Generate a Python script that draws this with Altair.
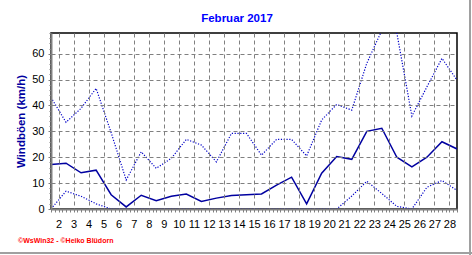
import altair as alt
import pandas as pd

# --- data ---
days = list(range(1, 29))
gust_max = [43.1, 33.5, 38.9, 46.6, 29.5, 11.2, 22.1, 15.7, 19.6, 26.9,
            24.7, 18.2, 29.2, 29.2, 20.8, 26.9, 26.9, 20.5, 34.4, 40.4,
            38.2, 56.3, 69.0, 68.0, 35.9, 47.2, 58.2, 49.8]
gust_mean = [17.2, 17.7, 14.0, 15.0, 5.5, 0.8, 5.3, 3.2, 4.9, 5.8,
             2.9, 4.2, 5.2, 5.5, 5.8, 9.2, 12.3, 2.0, 13.8, 20.3,
             19.2, 30.0, 31.2, 20.0, 16.3, 20.0, 26.0, 23.2]
gust_min = [0.0, 6.9, 4.9, 2.0, 0.0, 0.0, 0.0, 0.0, 0.0, 0.0,
            0.0, 0.0, 0.0, 0.0, 0.0, 0.0, 0.0, 0.0, 0.0, 0.0,
            5.0, 10.7, 6.0, 1.0, 0.0, 8.4, 11.0, 7.2]
day_labels = list(range(2, 29))
y_ticks = [0, 10, 20, 30, 40, 50, 60]
title_text = "Februar 2017"
y_title = "Windböen  (km/h)"
footer_text = "©WsWin32 - ©Heiko Blüdorn"

df = pd.DataFrame({"day": days, "max": gust_max, "mean": gust_mean, "min": gust_min})

x_grid = [d - 0.5 for d in day_labels]
x_minor = [1 + i * 0.25 for i in range(109)]
y_minor = list(range(0, 69, 2))

xscale = alt.Scale(domain=[1, 28], nice=False, zero=False)
yscale = alt.Scale(domain=[0, 68], nice=False, zero=True)

FONT = "Liberation Sans"
GRAY = "#808080"

x_axis_main = alt.Axis(
    values=x_grid, labelExpr="round(datum.value + 0.5)", grid=True,
    gridColor=GRAY, gridDash=[4, 3], gridWidth=1, tickSize=0, labelPadding=9,
    domainColor=GRAY, domainWidth=2, labelFont=FONT, labelFontSize=11,
    labelColor="black", title=None, orient="bottom", labelFlush=False,
    labelOverlap=False, zindex=1, gridOpacity=1)
y_axis_main = alt.Axis(
    values=y_ticks, grid=True, gridColor=GRAY, gridDash=[4, 3], gridWidth=1,
    tickSize=3, tickColor=GRAY, labelPadding=4, domainColor=GRAY, domainWidth=2,
    labelFont=FONT, labelFontSize=11, labelColor="black", title=y_title,
    titleFont=FONT, titleFontSize=11.5, titleFontWeight="bold", titleColor="#0000A0",
    titlePadding=5, orient="left", zindex=1, labelFlush=False)

x_axis_minor = alt.Axis(values=x_minor, grid=False, labels=False, tickSize=3,
                        tickColor=GRAY, tickWidth=1, domain=False, title=None,
                        orient="bottom", zindex=2)
y_axis_minor = alt.Axis(values=y_minor, grid=False, labels=False, tickSize=2,
                        tickColor=GRAY, tickWidth=1, domain=False, title=None,
                        orient="left", zindex=2)

base = alt.Chart(df)

max_line = base.mark_line(color="#0000C8", strokeDash=[1.2, 1.6], strokeWidth=1.2, clip=True).encode(
    x=alt.X("day:Q", scale=xscale, axis=x_axis_main),
    y=alt.Y("max:Q", scale=yscale, axis=y_axis_main),
)
mean_line = base.mark_line(color="#0000A0", strokeWidth=1.5, clip=True).encode(
    x=alt.X("day:Q", scale=xscale, axis=None),
    y=alt.Y("mean:Q", scale=yscale, axis=None),
)
min_line = base.mark_line(color="#0000C8", strokeDash=[1.2, 1.6], strokeWidth=1.2, clip=True).encode(
    x=alt.X("day:Q", scale=xscale, axis=None),
    y=alt.Y("min:Q", scale=yscale, axis=None),
)
minor = base.mark_point(opacity=0).encode(
    x=alt.X("day:Q", scale=xscale, axis=x_axis_minor),
    y=alt.Y("mean:Q", scale=yscale, axis=y_axis_minor),
)

one = pd.DataFrame({"t": [footer_text], "h": [title_text]})
footer = alt.Chart(one).mark_text(align="left", baseline="middle", color="#FF0000",
                                  fontSize=7, fontWeight="bold", font=FONT).encode(
    text="t:N", x=alt.value(-33), y=alt.value(208))
header = alt.Chart(one).mark_text(align="center", baseline="middle", color="#0000FF",
                                  fontSize=11.5, fontWeight="bold", font=FONT).encode(
    text="h:N", x=alt.value(186), y=alt.value(-14))
frame_bottom = alt.Chart(one).mark_rule(color="#A0A0A0", strokeWidth=2).encode(
    x=alt.value(-51), x2=alt.value(421), y=alt.value(220))
frame_right = alt.Chart(one).mark_rule(color="#A0A0A0", strokeWidth=2).encode(
    x=alt.value(419), y=alt.value(-33), y2=alt.value(222))

chart = alt.layer(minor, max_line, min_line, mean_line, footer, header,
                  frame_bottom, frame_right).resolve_axis(
    x="independent", y="independent"
).properties(
    width=406, height=176,
    autosize=alt.AutoSizeParams(type="none"),
    padding={"left": 51, "top": 33, "right": 15, "bottom": 46},
    background="white",
).configure_view(stroke="black", strokeWidth=1.5)

chart.save("out.html", embed_options={"renderer": "svg", "actions": False})
